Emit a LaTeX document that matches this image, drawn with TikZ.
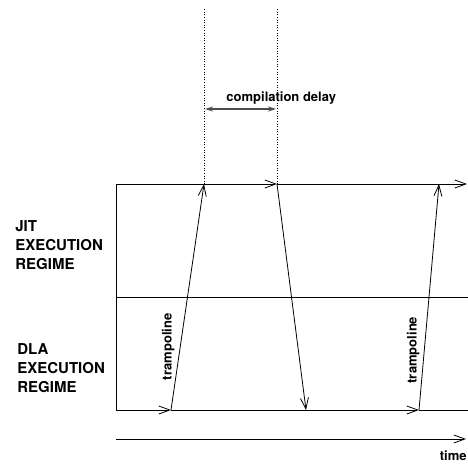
\documentclass[tikz,border=0pt]{standalone}
\usepackage{fontspec}
\setmainfont{TeX Gyre Heros}
\usetikzlibrary{arrows.meta}
\tikzset{
  open/.style={-{Straight Barb[length=11pt,width=8pt,line width=0.8pt]}},
  regime/.style={anchor=west, align=left, font=\bfseries\fontsize{15}{19}\selectfont},
  small/.style={font=\bfseries\fontsize{13}{15}\selectfont},
}
\begin{document}
\begin{tikzpicture}[x=1pt, y=-1pt, line width=0.8pt]
    \useasboundingbox (0,0) rectangle (468,463);
    % frame of the two regimes
    \coordinate (tl) at (116,184);
    \coordinate (ml) at (116,297);
    \coordinate (bl) at (116,410);
    \coordinate (tr) at (467,184);
    \coordinate (mr) at (468,297);
    \coordinate (br) at (468,410);
    % events
    \coordinate (jit1) at (204,184);
    \coordinate (cmp) at (277,184);
    \coordinate (dla1) at (171,410);
    \coordinate (back) at (306,410);
    \coordinate (dla2) at (419,410);
    \coordinate (jit2) at (439,184);
    \draw (tl) -- (bl);
    \draw (ml) -- (mr);
    \draw (tl) -- (jit1);
    \draw [open] (jit1) -- (cmp);
    \draw [open] (cmp) -- (tr);
    \draw [open] (bl) -- (dla1);
    \draw (dla1) -- (back);
    \draw [open] (back) -- (dla2);
    \draw (dla2) -- (br);
    \draw [open] (dla1) -- node [small, rotate=90, above=2pt, pos=0.28] {trampoline} (jit1);
    \draw [open] (cmp) -- (back);
    \draw [open] (dla2) -- node [small, rotate=90, above=1pt, pos=0.265] {trampoline} (jit2);
    % compilation delay
    \draw [dotted, line width=0.6pt] (jit1) -- (204,8);
    \draw [dotted, line width=0.6pt] (cmp) -- (277,8);
    \coordinate (d1) at (205,109);
    \coordinate (d2) at (276,109);
    \draw [{Stealth[length=8pt,width=5pt]}-{Stealth[length=8pt,width=5pt]}, line width=1.2pt, black!70] (d1) -- (d2);
    \node [small, anchor=base west, inner sep=0pt] (delay) at (226,101) {compilation delay};
    % time axis
    \coordinate (t0) at (116,439);
    \coordinate (t1) at (466,439);
    \draw [open] (t0) -- (t1);
    \node [small, anchor=base east, inner sep=0pt] (time) at (467,460) {time};
    % regime labels
    \node [regime, inner sep=0pt] (jit) at (15,245) {JIT\\EXECUTION\\REGIME};
    \node [regime, inner sep=0pt] (dla) at (17,368) {DLA\\EXECUTION\\REGIME};
\end{tikzpicture}
\end{document}
